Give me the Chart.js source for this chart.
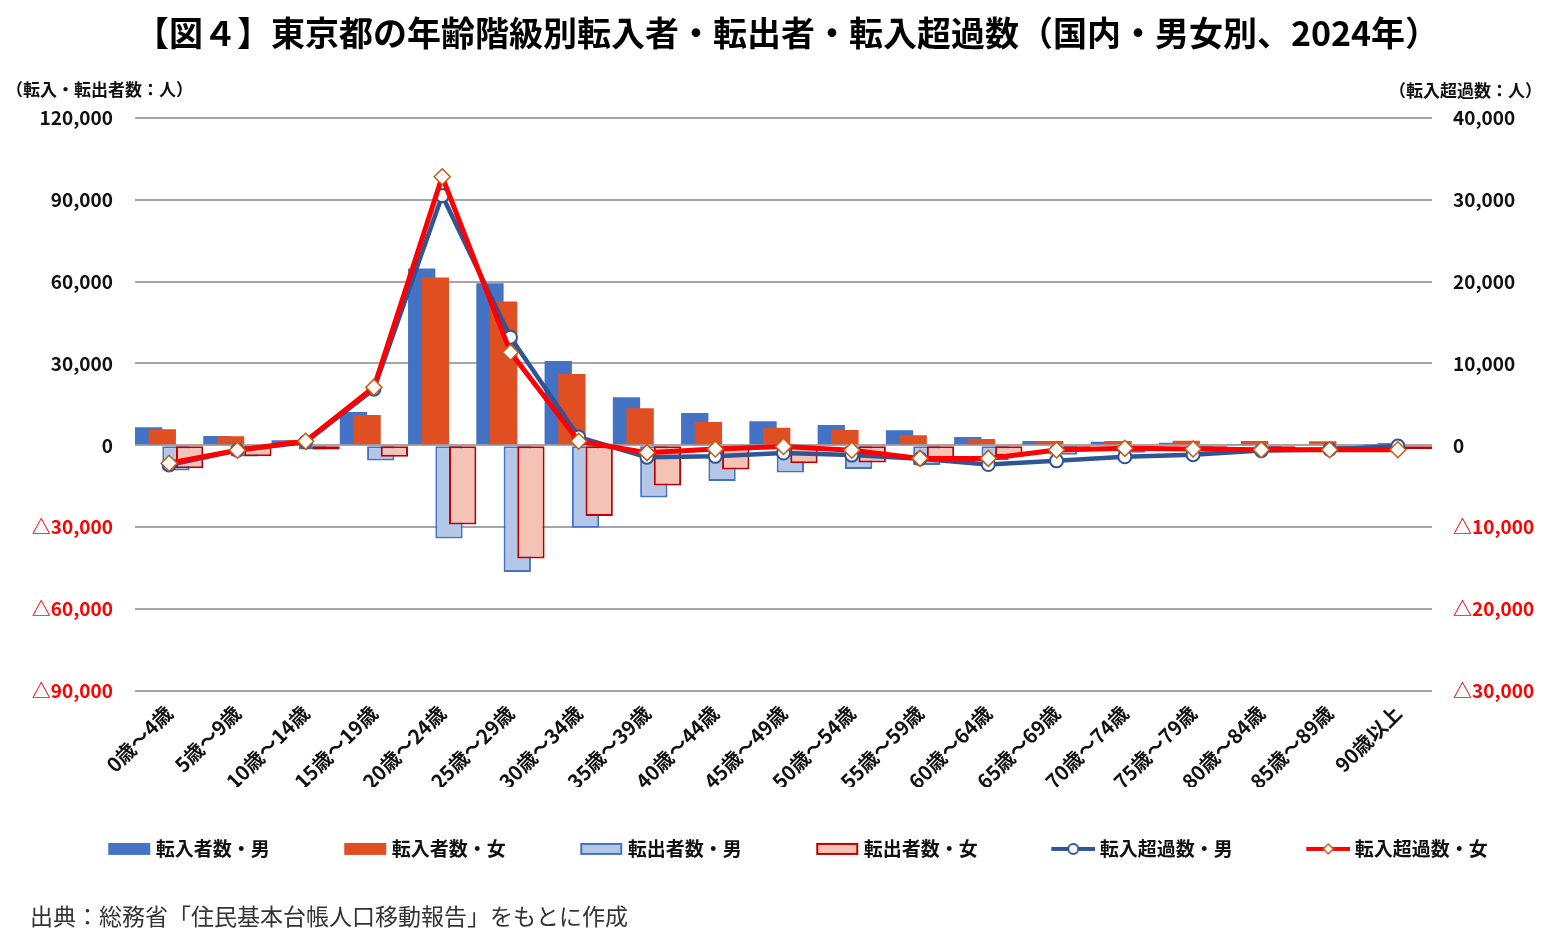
<!DOCTYPE html>
<html lang="ja">
<head>
<meta charset="UTF-8">
<title>東京都の年齢階級別転入者・転出者・転入超過数</title>
<script src="https://cdn.jsdelivr.net/npm/chart.js@4.4.1/dist/chart.umd.min.js"></script>
<style>
  html, body { margin: 0; padding: 0; background: #fff; }
  #wrap { width: 1554px; height: 939px; position: relative; }
</style>
</head>
<body>
<div id="wrap"><canvas id="chart"></canvas></div>
<script>
const FONT = "'Noto Sans CJK JP', 'Noto Sans', sans-serif";

// 年齢階級
const ageGroups = ['0歳～4歳', '5歳～9歳', '10歳～14歳', '15歳～19歳', '20歳～24歳', '25歳～29歳',
  '30歳～34歳', '35歳～39歳', '40歳～44歳', '45歳～49歳', '50歳～54歳', '55歳～59歳',
  '60歳～64歳', '65歳～69歳', '70歳～74歳', '75歳～79歳', '80歳～84歳', '85歳～89歳', '90歳以上'];

// 転入者数・転出者数（左軸）
const inflowMale    = [6600, 3400, 1800, 12200, 64800, 59400, 30900, 17600, 11800, 8800, 7400, 5500, 3000, 1600, 1300, 900, 500, 400, 200];
const inflowFemale  = [5900, 3300, 1900, 11100, 61500, 52700, 26100, 13600, 8500, 6400, 5600, 3700, 2300, 1600, 1600, 1650, 1600, 1500, 800];
const outflowMale   = [-9200, -4100, -1500, -5600, -34200, -46400, -30200, -19100, -13100, -10000, -8700, -7200, -5400, -3500, -2700, -2100, -1200, -900, -300];
const outflowFemale = [-8400, -4000, -1500, -4200, -29000, -41500, -25900, -14700, -8900, -6600, -6300, -5300, -3900, -2200, -2000, -2100, -2200, -2000, -1400];

// 転入超過数（右軸）
const netMale   = [-2400, -600, 400, 6850, 30500, 13200, 1000, -1450, -1350, -950, -1200, -1650, -2350, -1900, -1400, -1150, -650, -500, -100];
const netFemale = [-2200, -600, 500, 7100, 32800, 11350, 500, -900, -450, -150, -600, -1600, -1600, -580, -370, -450, -550, -550, -550];

// 軸の範囲 [min, max, step]
const leftAxis  = [-90000, 120000, 30000];
const rightAxis = [-30000, 40000, 10000];

const seriesLabels = ['転入者数・男', '転入者数・女', '転出者数・男', '転出者数・女', '転入超過数・男', '転入超過数・女'];

const COLORS = {
  inMale: '#4472C4',
  inFemale: '#E04F22',
  outMaleFill: '#B4C7E7',
  outMaleLine: '#4472C4',
  outFemaleFill: '#F4C3B5',
  outFemaleLine: '#C00000',
  netMale: '#2F5597',
  netFemale: '#FF0000',
  diamond: '#C55A11',
  grid: '#A6A6A6',
  negative: '#FF0000',
  text: '#111111'
};

const LEGEND_BOX = 60;

// 凡例アイコンを小さな canvas で作る（右寄せで描く）
function legendIcon(kind, fill, stroke, marker) {
  const w = LEGEND_BOX + 10, h = 16;
  const c = document.createElement('canvas');
  c.width = w; c.height = h;
  const g = c.getContext('2d');
  const x0 = w - 44;
  if (kind === 'bar') {
    g.fillStyle = fill;
    g.fillRect(x0 + 1, 2, 42, 12);
    if (stroke) {
      g.strokeStyle = stroke;
      g.lineWidth = 2;
      g.strokeRect(x0 + 2, 3, 40, 10);
    }
  } else {
    g.strokeStyle = stroke;
    g.lineWidth = 4;
    g.beginPath();
    g.moveTo(x0, 8);
    g.lineTo(w, 8);
    g.stroke();
    const cx = x0 + 22;
    g.fillStyle = '#fff';
    g.beginPath();
    if (marker === 'circle') {
      g.arc(cx, 8, 5, 0, Math.PI * 2);
      g.fill();
      g.lineWidth = 2;
      g.strokeStyle = stroke;
      g.stroke();
    } else {
      g.moveTo(cx - 5, 8); g.lineTo(cx, 3); g.lineTo(cx + 5, 8); g.lineTo(cx, 13); g.closePath();
      g.fill();
      g.lineWidth = 1.5;
      g.strokeStyle = COLORS.diamond;
      g.stroke();
    }
  }
  return c;
}

const legendIcons = [
  legendIcon('bar', COLORS.inMale),
  legendIcon('bar', COLORS.inFemale),
  legendIcon('bar', COLORS.outMaleFill, COLORS.outMaleLine),
  legendIcon('bar', COLORS.outFemaleFill, COLORS.outFemaleLine),
  legendIcon('line', null, COLORS.netMale, 'circle'),
  legendIcon('line', null, COLORS.netFemale, 'diamond')
];

const fmtTick = v => (v < 0 ? '△' : '') + Math.abs(v).toLocaleString('en-US');
const tickColor = c => (c.tick && c.tick.value < 0 ? COLORS.negative : COLORS.text);

// 棒は左から順に重ねて描き、折れ線を最後に描く
const drawOrderPlugin = {
  id: 'drawOrder',
  beforeDatasetsDraw(chart) {
    const metas = chart.getSortedVisibleDatasetMetas().slice().sort((a, b) => a.index - b.index);
    metas.forEach(meta => {
      if (typeof chart._drawDataset === 'function') {
        chart._drawDataset(meta);
      } else {
        meta.controller.draw();
      }
    });
    return false;
  }
};

// 軸の単位表示
const unitLabelPlugin = {
  id: 'unitLabels',
  afterDraw(chart) {
    const ctx = chart.ctx;
    const top = chart.chartArea.top;
    ctx.save();
    ctx.font = `bold 17px ${FONT}`;
    ctx.fillStyle = COLORS.text;
    ctx.textBaseline = 'middle';
    ctx.textAlign = 'left';
    ctx.fillText('（転入・転出者数：人）', 6, top - 28);
    ctx.textAlign = 'right';
    ctx.fillText('（転入超過数：人）', chart.width - 12, top - 27);
    ctx.restore();
  }
};

const ctx = document.getElementById('chart');

new Chart(ctx, {
  type: 'bar',
  data: {
    labels: ageGroups,
    datasets: [{
      label: seriesLabels[0],
      data: inflowMale,
      backgroundColor: COLORS.inMale,
      borderWidth: 0,
      yAxisID: 'y'
    }, {
      label: seriesLabels[1],
      data: inflowFemale,
      backgroundColor: COLORS.inFemale,
      borderWidth: 0,
      yAxisID: 'y'
    }, {
      label: seriesLabels[2],
      data: outflowMale,
      backgroundColor: COLORS.outMaleFill,
      borderColor: COLORS.outMaleLine,
      borderWidth: 2,
      borderSkipped: false,
      yAxisID: 'y'
    }, {
      label: seriesLabels[3],
      data: outflowFemale,
      backgroundColor: COLORS.outFemaleFill,
      borderColor: COLORS.outFemaleLine,
      borderWidth: 2,
      borderSkipped: false,
      yAxisID: 'y'
    }, {
      type: 'line',
      label: seriesLabels[4],
      data: netMale,
      yAxisID: 'y2',
      borderColor: COLORS.netMale,
      borderWidth: 4.5,
      tension: 0,
      pointStyle: 'circle',
      pointRadius: 6.5,
      pointBorderWidth: 2,
      pointBackgroundColor: '#fff',
      pointBorderColor: COLORS.netMale
    }, {
      type: 'line',
      label: seriesLabels[5],
      data: netFemale,
      yAxisID: 'y2',
      borderColor: COLORS.netFemale,
      borderWidth: 5,
      tension: 0,
      pointStyle: 'rectRot',
      pointRadius: 8,
      pointBorderWidth: 1.5,
      pointBackgroundColor: '#fff',
      pointBorderColor: COLORS.diamond
    }]
  },
  options: {
    responsive: true,
    maintainAspectRatio: false,
    animation: false,
    layout: { padding: { left: 30, right: 10, top: 0, bottom: 0 } },
    datasets: {
      bar: { categoryPercentage: 0.8, barPercentage: 2.0 }
    },
    scales: {
      x: {
        grid: { display: false, drawTicks: false },
        border: { display: false },
        ticks: {
          autoSkip: false,
          minRotation: 45,
          maxRotation: 45,
          padding: 10,
          color: COLORS.text,
          font: { family: FONT, size: 20, weight: 'bold' }
        },
        afterFit(scale) { scale.height = 96; }
      },
      y: {
        position: 'left',
        min: leftAxis[0],
        max: leftAxis[1],
        ticks: {
          stepSize: leftAxis[2],
          padding: 22,
          color: tickColor,
          callback: fmtTick,
          font: { family: FONT, size: 19, weight: 'bold' }
        },
        grid: { color: COLORS.grid, lineWidth: 2, drawTicks: false },
        border: { display: false },
        afterFit(scale) { scale.width = 105; }
      },
      y2: {
        position: 'right',
        min: rightAxis[0],
        max: rightAxis[1],
        ticks: {
          stepSize: rightAxis[2],
          padding: 21,
          color: tickColor,
          callback: fmtTick,
          font: { family: FONT, size: 19, weight: 'bold' }
        },
        grid: { display: false, drawTicks: false },
        border: { display: false },
        afterFit(scale) { scale.width = 112; }
      }
    },
    plugins: {
      title: {
        display: true,
        text: '【図４】東京都の年齢階級別転入者・転出者・転入超過数（国内・男女別、2024年）',
        color: '#000',
        font: { family: FONT, size: 34, weight: 'bold' },
        padding: { top: 13, bottom: 64 }
      },
      subtitle: {
        display: true,
        text: '出典：総務省「住民基本台帳人口移動報告」をもとに作成',
        position: 'bottom',
        align: 'start',
        color: '#333',
        font: { family: FONT, size: 23, weight: 'normal' },
        padding: { top: 34, bottom: 9 }
      },
      legend: {
        position: 'bottom',
        labels: {
          usePointStyle: true,
          pointStyleWidth: LEGEND_BOX,
          padding: 52.5,
          color: COLORS.text,
          font: { family: FONT, size: 19, weight: 'bold' },
          generateLabels(chart) {
            const items = Chart.defaults.plugins.legend.labels.generateLabels(chart);
            items.forEach(item => {
              item.pointStyle = legendIcons[item.datasetIndex];
              item.rotation = 0;
            });
            return items;
          }
        }
      },
      tooltip: { enabled: false }
    }
  },
  plugins: [drawOrderPlugin, unitLabelPlugin]
});
</script>
</body>
</html>
